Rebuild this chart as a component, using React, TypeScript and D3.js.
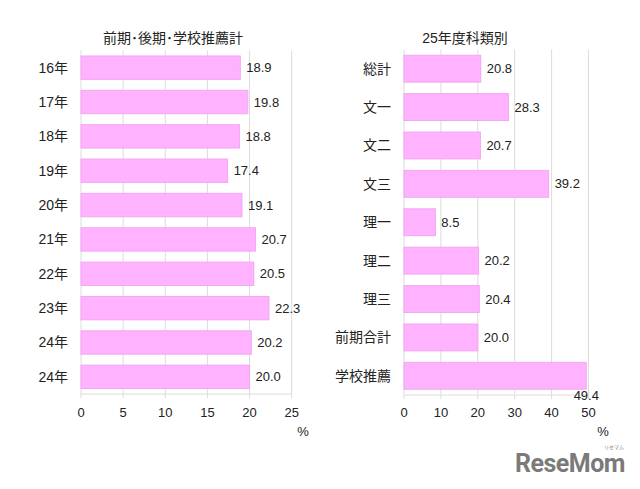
import React from "react";
import * as d3 from "d3";

const leftCategories = ["16年", "17年", "18年", "19年", "20年", "21年", "22年", "23年", "24年", "24年"];
const leftValues = [18.9, 19.8, 18.8, 17.4, 19.1, 20.7, 20.5, 22.3, 20.2, 20.0];
const leftTicks = [0, 5, 10, 15, 20, 25];
const leftTitle = "前期･後期･学校推薦計";

const rightCategories = ["総計", "文一", "文二", "文三", "理一", "理二", "理三", "前期合計", "学校推薦"];
const rightValues = [20.8, 28.3, 20.7, 39.2, 8.5, 20.2, 20.4, 20.0, 49.4];
const rightTicks = [0, 10, 20, 30, 40, 50];
const rightTitle = "25年度科類別";

const FONT = "'Liberation Sans', 'Noto Sans CJK JP', sans-serif";
const BAR = "#FFB3FF";
const BAR_STROKE = "#F2A6F2";
const GRID = "#DCDCDC";
const TEXT = "#222";

type PanelProps = {
  cats: string[];
  vals: number[];
  ticks: number[];
  title: string;
  x0: number;
  x1: number;
  y0: number;
  y1: number;
  max: number;
  pad: number;
  labelX: number;
  titleX: number;
  pctX: number;
  overflowLabel?: boolean;
};

function Panel(p: PanelProps) {
  const x = d3.scaleLinear().domain([0, p.max]).range([p.x0, p.x1]);
  const y = d3
    .scaleBand<number>()
    .domain(d3.range(p.cats.length))
    .range([p.y0, p.y1])
    .paddingInner(p.pad)
    .paddingOuter(p.pad / 2);
  return (
    <g fontFamily={FONT}>
      <text x={p.titleX} y={43} textAnchor="middle" fontSize={14} fill={TEXT}>
        {p.title}
      </text>
      {p.ticks.map((t) => (
        <line key={"g" + t} x1={x(t)} x2={x(t)} y1={p.y0} y2={p.y1 + 4} stroke={GRID} strokeWidth={1} />
      ))}
      <line x1={p.x0} x2={p.x1} y1={p.y1} y2={p.y1} stroke={GRID} strokeWidth={1} />
      {p.vals.map((v, i) => {
        const yy = y(i)!;
        const bw = y.bandwidth();
        const overflow = p.overflowLabel && v > p.max * 0.95;
        return (
          <g key={i}>
            <rect
              x={x(0)}
              y={yy}
              width={x(v) - x(0)}
              height={bw}
              fill={BAR}
              stroke={BAR_STROKE}
              strokeWidth={1}
            />
            <text
              x={p.labelX}
              y={yy + bw / 2}
              dy="0.35em"
              textAnchor="end"
              fontSize={14}
              fill={TEXT}
            >
              {p.cats[i]}
            </text>
            {overflow ? (
              <text x={x(v)} y={yy + bw + 6} dy="0.35em" textAnchor="middle" fontSize={13} fill={TEXT}>
                {v.toFixed(1)}
              </text>
            ) : (
              <text x={x(v) + 6} y={yy + bw / 2} dy="0.35em" textAnchor="start" fontSize={13} fill={TEXT}>
                {v.toFixed(1)}
              </text>
            )}
          </g>
        );
      })}
      {p.ticks.map((t) => (
        <text key={"t" + t} x={x(t)} y={412.5} dy="0.35em" textAnchor="middle" fontSize={13} fill={TEXT}>
          {t}
        </text>
      ))}
      <text x={p.pctX} y={431} dy="0.35em" textAnchor="middle" fontSize={13} fill={TEXT}>
        %
      </text>
    </g>
  );
}

export default function App() {
  return (
    <svg width={640} height={489} style={{ position: "absolute", left: 0, top: 0, background: "#fff" }}>
      <rect width={640} height={489} fill="#fff" />
      <Panel
        cats={leftCategories}
        vals={leftValues}
        ticks={leftTicks}
        title={leftTitle}
        x0={81}
        x1={291.7}
        y0={50.5}
        y1={394}
        max={25}
        pad={0.32}
        labelX={68}
        titleX={173}
        pctX={303}
      />
      <Panel
        cats={rightCategories}
        vals={rightValues}
        ticks={rightTicks}
        title={rightTitle}
        x0={404}
        x1={588.5}
        y0={49.5}
        y1={395}
        max={50}
        pad={0.3}
        labelX={391}
        titleX={465}
        pctX={603}
        overflowLabel
      />
      <g fontFamily="'Roboto', 'Noto Sans', sans-serif" fill="#7a7a7a">
        <text x={625} y={472} textAnchor="end" fontSize={25} fontWeight="bold" letterSpacing={-0.5}>
          ReseMom
        </text>
        <text x={614} y={449} textAnchor="middle" fontSize={5} fontFamily="'Noto Sans CJK JP', sans-serif">
          リセマム
        </text>
      </g>
    </svg>
  );
}
